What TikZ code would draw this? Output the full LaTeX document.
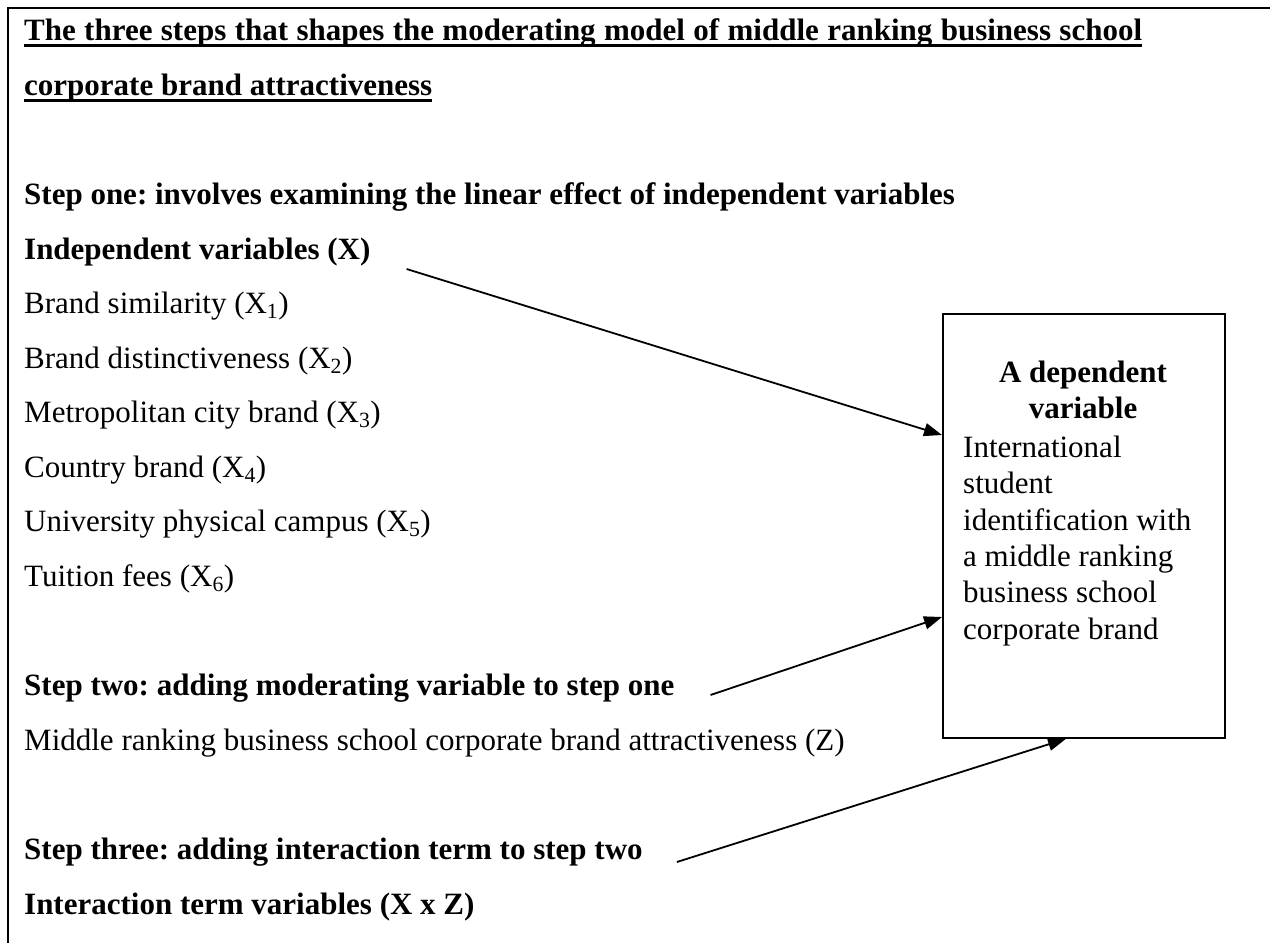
\documentclass[tikz,border=0pt]{standalone}
\usepackage{fontspec}
\setmainfont{Liberation Serif}
\usetikzlibrary{arrows.meta}
\frenchspacing

\newcommand{\bodysize}{\fontsize{31}{36.5}\selectfont\frenchspacing}

\begin{document}
\begin{tikzpicture}[x=1pt, y=-1pt,
  txt/.style={anchor=base west, inner sep=0pt, font=\bodysize},
  btxt/.style={txt, font=\bodysize\bfseries},
  ctr/.style={anchor=base, inner sep=0pt, font=\bodysize\bfseries},
  frame/.style={line width=2pt},
  uline/.style={line width=3pt},
  conn/.style={line width=1.8pt, -{Triangle[length=18pt,width=13pt]}}]

\useasboundingbox (0,0) rectangle (1270,943);
\fill[white] (0,0) rectangle (1270,943);

% open frame: top and left rules
\draw[frame] (8,943) -- (8,8) -- (1270,8);

% heading, justified first line
\node[btxt] (t1) at (24,40) {\makebox[1118pt][s]{The three steps that shapes the moderating model of middle ranking business school}};
\node[btxt] (t2) at (24,95) {corporate brand attractiveness};
\draw[uline] ([yshift=-5pt]t1.base west) -- ([yshift=-5pt]t1.base east);
\draw[uline] ([yshift=-5pt]t2.base west) -- ([yshift=-5pt]t2.base east);

% step one
\node[btxt] (s1) at (24,204) {Step one: involves examining the linear effect of independent variables};
\node[btxt] (iv) at (24,259) {Independent variables (X)};
\node[txt] (x1) at (24,313) {Brand similarity (X\textsubscript{1})};
\node[txt] (x2) at (24,368) {Brand distinctiveness (X\textsubscript{2})};
\node[txt] (x3) at (24,422) {Metropolitan city brand (X\textsubscript{3})};
\node[txt] (x4) at (24,477) {Country brand (X\textsubscript{4})};
\node[txt] (x5) at (24,531) {University physical campus (X\textsubscript{5})};
\node[txt] (x6) at (24,586) {Tuition fees (X\textsubscript{6})};

% step two
\node[btxt] (s2) at (24,695) {Step two: adding moderating variable to step one};
\node[txt] (zz) at (24,750) {Middle ranking business school corporate brand attractiveness (Z)};

% step three
\node[btxt] (s3) at (24,859) {Step three: adding interaction term to step two};
\node[btxt] (it) at (24,914) {Interaction term variables (X x Z)};

% dependent variable box
\node[draw, line width=1.8pt, inner sep=0pt, anchor=north west,
      minimum width=282pt, minimum height=424pt] (dep) at (942,313) {};
\node[ctr] (dh1) at (1083,382) {A dependent};
\node[ctr] (dh2) at (1083,418) {variable};
\node[txt] (d1) at (963,457) {International};
\node[txt] (d2) at (963,493.5) {student};
\node[txt] (d3) at (963,530) {identification with};
\node[txt] (d4) at (963,566) {a middle ranking};
\node[txt] (d5) at (963,602) {business school};
\node[txt] (d6) at (963,639) {corporate brand};

% connectors into the box
\draw[conn] ([xshift=36pt,yshift=-10pt]iv.base east) -- ([yshift=-122pt]dep.north west);
\draw[conn] ([xshift=36pt]s2.base east) -- ([yshift=-304pt]dep.north west);
\draw[conn] ([xshift=34pt,yshift=-3pt]s3.base east) -- ([xshift=124pt]dep.south west);

\end{tikzpicture}
\end{document}
